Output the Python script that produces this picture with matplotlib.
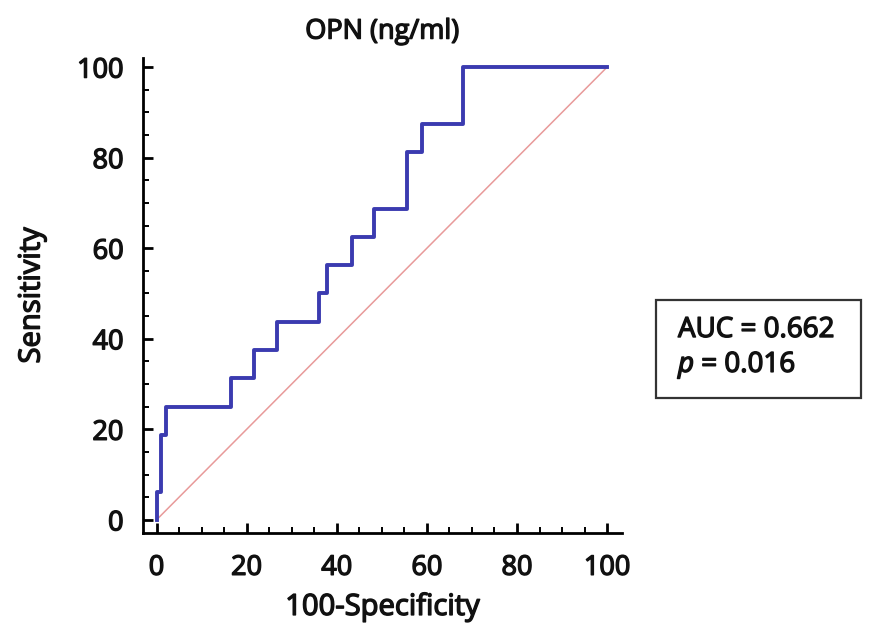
import matplotlib.pyplot as plt
import matplotlib.patheffects as pe
from matplotlib.patches import Rectangle
from matplotlib.ticker import MultipleLocator

# ROC curve (100-specificity, sensitivity)
fpr = [0, 0, 1.0, 1.0, 2.0, 2.0, 16.5, 16.5, 21.7, 21.7, 26.8, 26.8, 36.1, 36.1,
       37.9, 37.9, 43.3, 43.3, 48.3, 48.3, 55.6, 55.6, 58.9, 58.9, 68.1, 68.1, 100]
tpr = [0, 6.25, 6.25, 18.75, 18.75, 25, 25, 31.25, 31.25, 37.5, 37.5, 43.75, 43.75, 50,
       50, 56.25, 56.25, 62.5, 62.5, 68.75, 68.75, 81.25, 81.25, 87.5, 87.5, 100, 100]
diag = [0, 100]
ticks = [0, 20, 40, 60, 80, 100]
auc_text = "AUC = 0.662"
p_text = "$\\it{p}$ = 0.016"

plt.rcParams['font.family'] = ['Open Sans', 'DejaVu Sans']
plt.rcParams['mathtext.fontset'] = 'custom'
plt.rcParams['mathtext.it'] = 'Open Sans:italic'
plt.rcParams['mathtext.rm'] = 'Open Sans'
# a thin outline makes the regular face look like the slightly heavy original
heavy = [pe.withStroke(linewidth=1.0, foreground='#111111')]

W, H = 873, 626
fig = plt.figure(figsize=(8.73, 6.26), dpi=100)
ax = fig.add_axes([0.1638, 0.1486, 0.5487, 0.7587])

ax.plot(diag, diag, color='#e89a9a', lw=1.1, zorder=2)
ax.plot(fpr, tpr, color='#3b3bb0', lw=2.8, zorder=3)

ax.set_xlim(-3, 103.3)
ax.set_ylim(-2.9, 102)
ax.set_xticks(ticks)
ax.set_yticks(ticks)
ax.xaxis.set_minor_locator(MultipleLocator(5))
ax.yaxis.set_minor_locator(MultipleLocator(5))
ax.tick_params(which='major', direction='in', length=7.5, width=2, labelsize=19.5,
               labelcolor='#111111')
ax.tick_params(which='minor', direction='in', length=4, width=1.4)
ax.tick_params(axis='x', which='major', pad=15)
ax.tick_params(axis='y', which='major', pad=14)

for side in ['top', 'right']:
    ax.spines[side].set_visible(False)
for side in ['left', 'bottom']:
    ax.spines[side].set_linewidth(2)

ax.set_title("OPN (ng/ml)", fontsize=19.5, pad=14, color='#111111')
ax.set_xlabel("100-Specificity", fontsize=21, labelpad=8, color='#111111')
ax.set_ylabel("Sensitivity", fontsize=21, labelpad=22, color='#111111')

for t in ax.get_xticklabels() + ax.get_yticklabels():
    t.set_path_effects(heavy)
for t in [ax.title, ax.xaxis.label, ax.yaxis.label]:
    t.set_path_effects(heavy)

# statistics box on the right
fig.patches.append(Rectangle((656 / W, 1 - 398 / H), 205 / W, 98 / H,
                             transform=fig.transFigure, fc='white',
                             ec='#333333', lw=1.6))
fig.text(678 / W, 1 - 337 / H, auc_text, fontsize=20, va='baseline', ha='left',
         color='#111111', path_effects=heavy)
fig.text(678 / W, 1 - 372 / H, p_text, fontsize=20, va='baseline', ha='left',
         color='#111111', path_effects=heavy)

fig.savefig("out.png", dpi=100)
